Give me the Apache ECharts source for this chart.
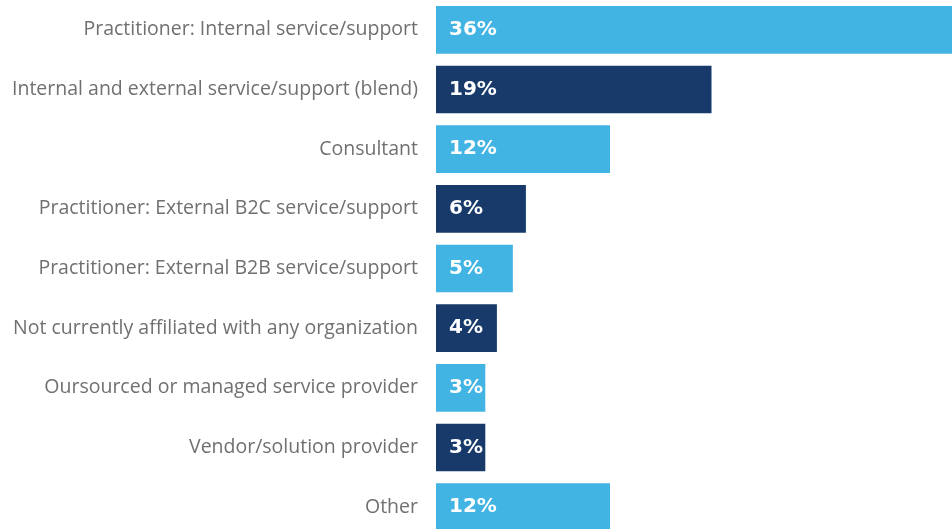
<!DOCTYPE html>
<html>
<head>
<meta charset="utf-8">
<script src="https://cdn.jsdelivr.net/npm/echarts@6/dist/echarts.min.js"></script>
<style>
  html, body { margin: 0; padding: 0; background: #fff; }
  #chart { width: 952px; height: 529px; }
</style>
</head>
<body>
<div id="chart"></div>
<script>
const categories = [
  "Practitioner: Internal service/support",
  "Internal and external service/support (blend)",
  "Consultant",
  "Practitioner: External B2C service/support",
  "Practitioner: External B2B service/support",
  "Not currently affiliated with any organization",
  "Oursourced or managed service provider",
  "Vendor/solution provider",
  "Other"
];
// share of respondents, %
const values = [36, 19, 12, 6.2, 5.3, 4.2, 3.4, 3.4, 12];
const barColors = ["#41b4e4", "#173a6b"];

const chart = echarts.init(document.getElementById("chart"));

const option = {
  animation: false,
  // plot runs a little past the right/bottom edge, like the cropped original
  grid: {
    left: 436, width: 522, top: 0, height: 537,
    containLabel: false,
    outerBoundsMode: "none"
  },
  xAxis: {
    type: "value",
    min: 0,
    max: 36,
    show: false
  },
  yAxis: {
    type: "category",
    inverse: true,
    data: categories,
    axisLine: { show: false },
    axisTick: { show: false },
    axisLabel: {
      margin: 18,
      color: "#707070",
      fontFamily: "Open Sans",
      fontSize: 19.5
    }
  },
  series: [
    {
      type: "bar",
      barWidth: "80%",
      data: values.map((v, i) => ({
        value: v,
        itemStyle: { color: barColors[i % 2] }
      })),
      label: {
        show: true,
        position: "insideLeft",
        distance: 13,
        color: "#fff",
        fontFamily: "DejaVu Sans",
        fontWeight: "bold",
        fontSize: 20,
        formatter: (p) => Math.round(p.value) + "%"
      }
    }
  ]
};

chart.setOption(option);
</script>
</body>
</html>
